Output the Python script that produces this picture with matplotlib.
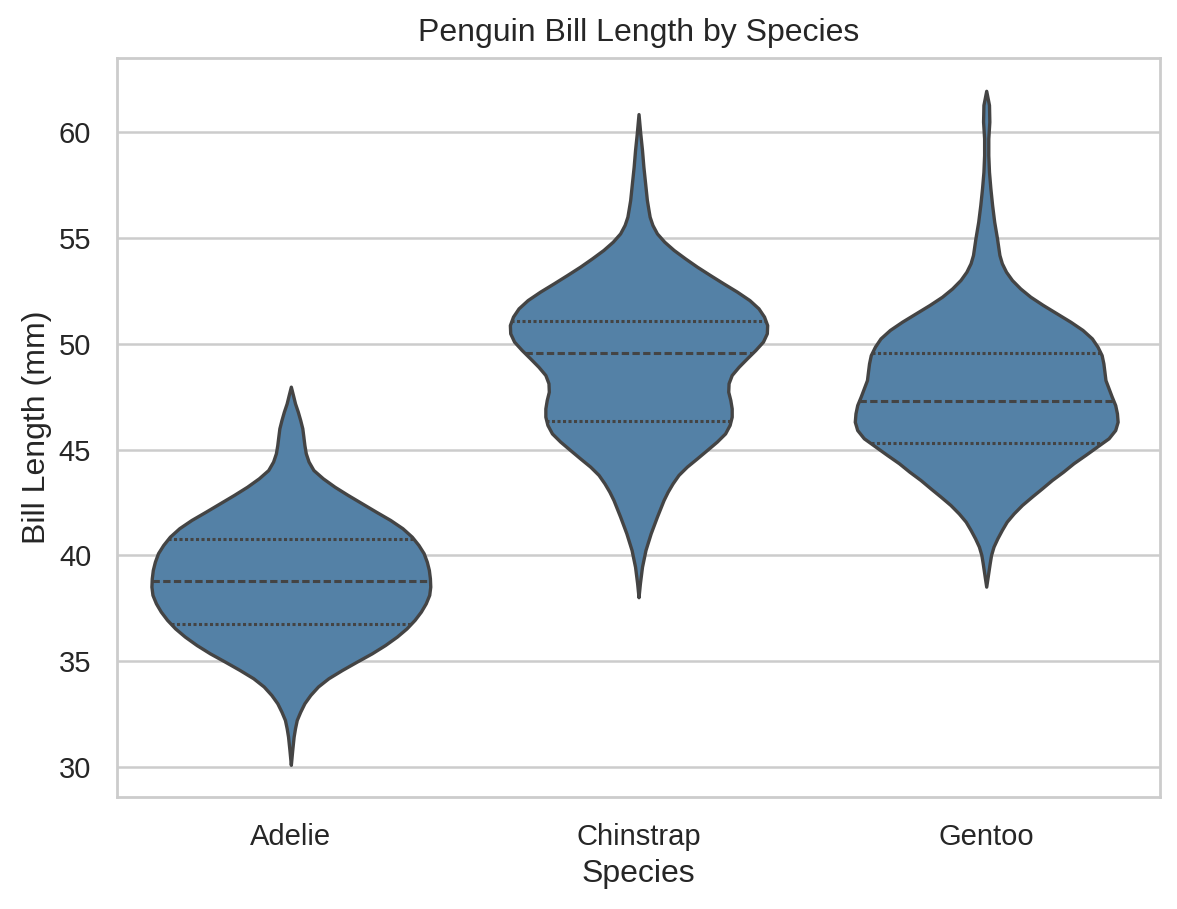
import matplotlib
matplotlib.use("Agg")
import matplotlib.pyplot as plt
import numpy as np
import seaborn as sns

# violin outlines: bill length (mm) and half width (category units)
species = ["Adelie", "Chinstrap", "Gentoo"]

adelie_y = [47.97, 47.58, 47.18, 46.79, 46.39, 46.00, 45.61, 45.21, 44.82, 44.43,
            44.03, 43.64, 43.24, 42.85, 42.46, 42.06, 41.67, 41.28, 40.88, 40.49,
            40.10, 39.70, 39.31, 38.91, 38.52, 38.13, 37.73, 37.34, 36.95, 36.55,
            36.16, 35.76, 35.37, 34.98, 34.58, 34.19, 33.80, 33.40, 33.01, 32.61,
            32.22, 31.83, 31.43, 30.80, 30.10]
adelie_w = [0.0, 0.006, 0.012, 0.020, 0.027, 0.033, 0.036, 0.039, 0.043, 0.051,
            0.065, 0.092, 0.126, 0.164, 0.204, 0.245, 0.286, 0.321, 0.348, 0.367,
            0.382, 0.391, 0.397, 0.400, 0.401, 0.398, 0.388, 0.374, 0.356, 0.333,
            0.305, 0.271, 0.233, 0.190, 0.147, 0.108, 0.078, 0.056, 0.039, 0.027,
            0.017, 0.012, 0.008, 0.004, 0.0]

chinstrap_y = [60.85, 59.94, 59.15, 58.36, 57.58, 56.79, 56.39, 56.00, 55.61, 55.21,
               54.82, 54.43, 54.03, 53.64, 53.24, 52.85, 52.46, 52.06, 51.67, 51.28,
               50.88, 50.49, 50.10, 49.70, 49.31, 48.91, 48.52, 48.13, 47.73, 47.34,
               46.94, 46.55, 46.16, 45.76, 45.37, 44.98, 44.58, 44.19, 43.80, 43.40,
               43.01, 42.61, 41.83, 41.04, 40.25, 39.46, 38.68, 38.02]
chinstrap_w = [0.0, 0.005, 0.010, 0.014, 0.019, 0.024, 0.028, 0.032, 0.040, 0.053,
               0.074, 0.101, 0.134, 0.168, 0.206, 0.244, 0.283, 0.319, 0.345, 0.361,
               0.370, 0.369, 0.358, 0.336, 0.312, 0.288, 0.268, 0.259, 0.258, 0.264,
               0.268, 0.268, 0.262, 0.249, 0.225, 0.197, 0.168, 0.139, 0.115, 0.098,
               0.084, 0.072, 0.053, 0.035, 0.020, 0.010, 0.004, 0.0]

gentoo_y = [61.95, 61.28, 60.49, 59.70, 58.91, 58.12, 57.34, 56.55, 55.76, 54.98,
            54.19, 53.80, 53.40, 53.01, 52.61, 52.22, 51.83, 51.43, 51.04, 50.65,
            50.25, 49.86, 49.46, 49.07, 48.68, 48.28, 47.89, 47.50, 47.10, 46.71,
            46.31, 45.92, 45.53, 45.13, 44.74, 44.35, 43.95, 43.56, 43.16, 42.77,
            42.38, 41.98, 41.59, 41.20, 40.80, 40.41, 40.02, 39.62, 39.07, 38.52]
gentoo_w = [0.0, 0.008, 0.009, 0.006, 0.006, 0.008, 0.012, 0.017, 0.023, 0.031,
            0.038, 0.045, 0.057, 0.074, 0.098, 0.127, 0.163, 0.203, 0.242, 0.277,
            0.304, 0.320, 0.332, 0.337, 0.340, 0.343, 0.352, 0.361, 0.371, 0.376,
            0.378, 0.371, 0.352, 0.318, 0.285, 0.251, 0.221, 0.189, 0.160, 0.131,
            0.103, 0.079, 0.059, 0.045, 0.032, 0.021, 0.014, 0.010, 0.005, 0.0]

# quartiles (Q1, median, Q3)
q1 = [36.75, 46.35, 45.30]
median = [38.80, 49.55, 47.30]
q3 = [40.75, 51.075, 49.55]

outlines = [(adelie_y, adelie_w), (chinstrap_y, chinstrap_w), (gentoo_y, gentoo_w)]

sns.set_theme(style="whitegrid")
plt.rcParams['font.family'] = ['Liberation Sans', 'DejaVu Sans']

fig, ax = plt.subplots(figsize=(5.885, 4.545), dpi=200)
fig.subplots_adjust(left=0.0994, right=0.9856, bottom=0.1232, top=0.9362)

fill = "#5481a6"
edge = "#444444"

for i, (ys, ws) in enumerate(outlines):
    ys = np.array(ys)
    ws = np.array(ws)
    ax.fill_betweenx(ys, i - ws, i + ws, facecolor=fill, edgecolor=edge,
                     linewidth=1.2, joinstyle="round", zorder=2)
    # profile sorted upward for looking up the width at the quartiles
    order = np.argsort(ys)
    for val, style in [(q1[i], (0, (1, 0.8))), (median[i], (0, (2.4, 1.1))),
                       (q3[i], (0, (1, 0.8)))]:
        hw = np.interp(val, ys[order], ws[order])
        ax.plot([i - hw, i + hw], [val, val], color=edge, linewidth=1.1,
                linestyle=style, zorder=3)

ax.set_xlim(-0.5, 2.5)
ax.set_ylim(28.58, 63.5)
ax.set_xticks(range(len(species)))
ax.set_xticklabels(species)
ax.set_yticks([30, 35, 40, 45, 50, 55, 60])
ax.xaxis.grid(False)
ax.yaxis.grid(True, color="#cccccc", linewidth=0.9)
ax.set_axisbelow(True)
for sp in ax.spines.values():
    sp.set_color("#cccccc")
    sp.set_linewidth(1.0)

ax.tick_params(axis="both", labelsize=10.5, colors="#262626", length=0, pad=9.3)
ax.set_xlabel("Species", fontsize=11.5, color="#262626", labelpad=3)
ax.set_ylabel("Bill Length (mm)", fontsize=11.5, color="#262626", labelpad=2.5)
ax.set_title("Penguin Bill Length by Species", fontsize=11.5, color="#262626", pad=6)

fig.savefig("out.png", dpi=200)
